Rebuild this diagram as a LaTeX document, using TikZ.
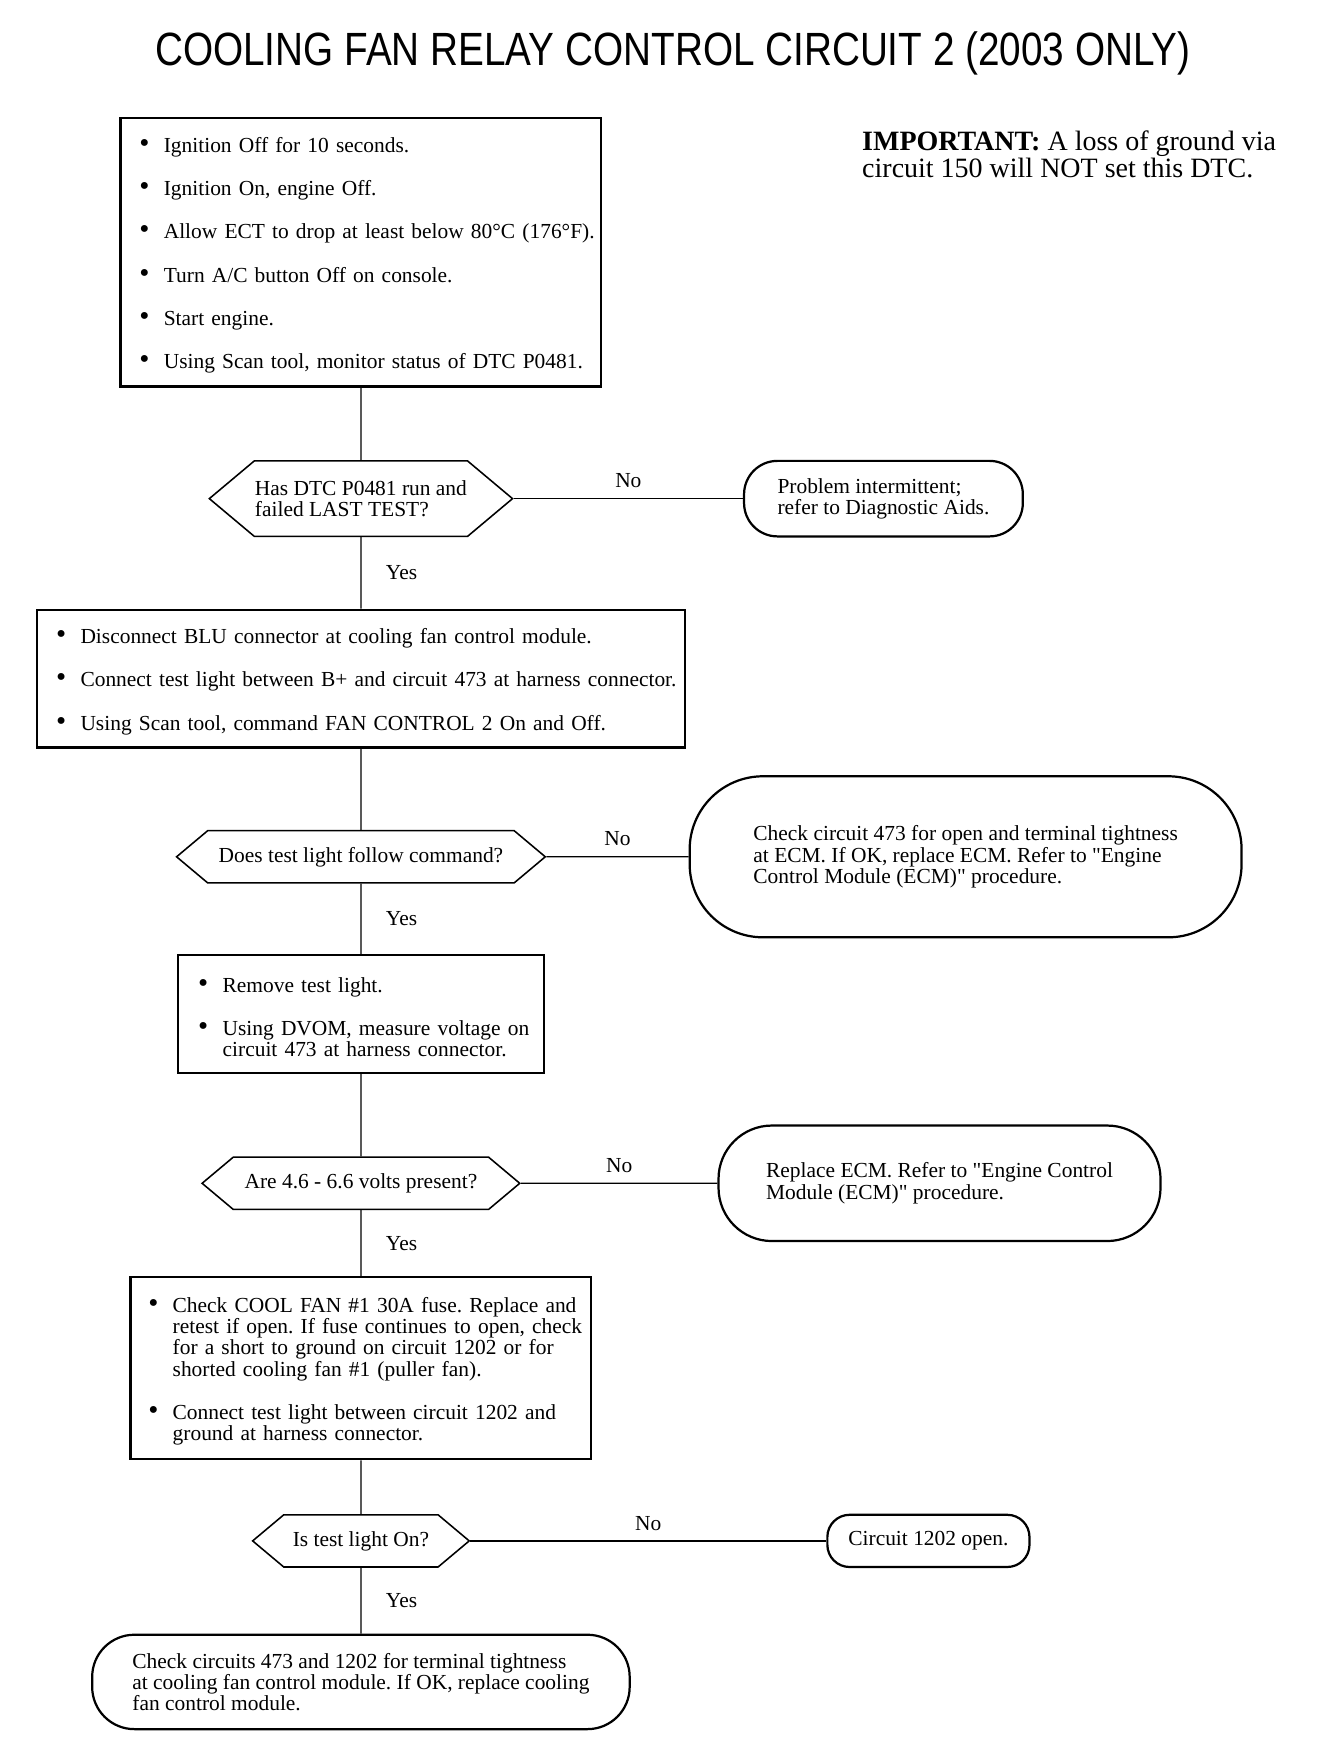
\documentclass[tikz,border=0pt]{standalone}
\usepackage{fontspec}
\usepackage{graphicx}
\setmainfont{Liberation Serif}
\newfontfamily\titlefont{Liberation Sans}
\usetikzlibrary{shapes.symbols}
\frenchspacing

\newcommand{\bodyfont}{\fontsize{9.65}{9.6}\selectfont}
\newcommand{\bigbullet}{{\fontsize{13}{13}\selectfont\textbullet}}
% bullet list used inside the boxes, #1 = left padding
\newenvironment{checklist}[1]{%
  \begin{list}{\bigbullet}{%
    \setlength{\leftmargin}{\dimexpr#1+11pt\relax}%
    \setlength{\labelwidth}{\leftmargin}%
    \setlength{\labelsep}{0pt}%
    \setlength{\rightmargin}{-20pt}%
    \setlength{\itemsep}{9.9pt}\setlength{\parsep}{0pt}%
    \setlength{\topsep}{0pt}\setlength{\partopsep}{0pt}%
    \def\makelabel##1{\hspace*{#1}##1\hfil}}}%
  {\end{list}}

\tikzset{
  box/.style={draw, line width=1pt, inner sep=0pt, align=left, font=\bodyfont},
  dec/.style={draw, line width=0.7pt, shape=signal, signal to=west and east,
    signal pointer angle=80, inner sep=0pt, align=left, font=\bodyfont},
  term/.style={draw, line width=1pt, rounded corners=#1, inner sep=0pt,
    align=left, font=\bodyfont},
  lnk/.style={line width=0.55pt},
  no/.style={midway, above=4.5pt, inner sep=0pt, font=\bodyfont},
  yes/.style={midway, right=11pt, inner sep=0pt, font=\bodyfont}
}

\begin{document}
\begin{tikzpicture}[x=0.5pt,y=-0.5pt]
\useasboundingbox (0,0) rectangle (1210,1574);

\node (title) at (606,48) {\scalebox{0.83}[1]{\titlefont\fontsize{21}{21}\selectfont
  COOLING FAN RELAY CONTROL CIRCUIT 2 (2003 ONLY)}};

\node (note) [anchor=north west, inner sep=0pt, align=left,
  font=\fontsize{12.6}{12.5}\selectfont] at (776,117)
  {\textbf{IMPORTANT:} A loss of ground via\\circuit 150 will NOT set this DTC.};

% steps
\node (b1) [box, text width=216.5pt, minimum height=121pt] at (325,227) {%
  \begin{checklist}{8.5pt}
  \item Ignition Off for 10 seconds.
  \item Ignition On, engine Off.
  \item Allow ECT to drop at least below 80°C (176°F).
  \item Turn A/C button Off on console.
  \item Start engine.
  \item Using Scan tool, monitor status of DTC P0481.
  \end{checklist}};

\node (b2) [box, text width=291.5pt, minimum height=62pt] at (325,611) {%
  \begin{checklist}{8.5pt}
  \item Disconnect BLU connector at cooling fan control module.
  \item Connect test light between B+ and circuit 473 at harness connector.
  \item Using Scan tool, command FAN CONTROL 2 On and Off.
  \end{checklist}};

\node (b3) [box, text width=164.5pt, minimum height=53pt] at (325,913) {%
  \begin{checklist}{9pt}
  \item Remove test light.
  \item Using DVOM, measure voltage on\\circuit 473 at harness connector.
  \end{checklist}};

\node (b4) [box, text width=207.5pt, minimum height=82pt] at (325,1232) {%
  \begin{checklist}{8pt}
  \item Check COOL FAN \#1 30A fuse. Replace and\\retest if open. If fuse continues to open, check\\for a short to ground on circuit 1202 or for\\shorted cooling fan \#1 (puller fan).
  \item Connect test light between circuit 1202 and\\ground at harness connector.
  \end{checklist}};

% questions
\node (d1) [dec, minimum width=136.5pt, minimum height=34pt] at (325,449)
  {Has DTC P0481 run and\\failed LAST TEST?};
\node (d2) [dec, minimum width=166pt, minimum height=23.5pt] at (325,771.5)
  {Does test light follow command?};
\node (d3) [dec, minimum width=143pt, minimum height=23.5pt] at (325,1065.5)
  {Are 4.6 - 6.6 volts present?};
\node (d4) [dec, minimum width=97.5pt, minimum height=23.5pt] at (325,1387.5)
  {Is test light On?};

% results
\node (t1) [term=15pt, minimum width=125.5pt, minimum height=34pt] at (795.5,449)
  {Problem intermittent;\\refer to Diagnostic Aids.};
\node (t2) [term=33pt, minimum width=248.5pt, minimum height=72.5pt] at (869.5,771.5)
  {Check circuit 473 for open and terminal tightness\\at ECM. If OK, replace ECM. Refer to \textquotedbl Engine\\Control Module (ECM)\textquotedbl{} procedure.};
\node (t3) [term=24pt, minimum width=199pt, minimum height=52pt] at (846,1065.5)
  {Replace ECM. Refer to \textquotedbl Engine Control\\Module (ECM)\textquotedbl{} procedure.};
\node (t4) [term=10pt, minimum width=91pt, minimum height=23.5pt] at (836,1387.5)
  {Circuit 1202 open.};
\node (t5) [term=19pt, minimum width=242pt, minimum height=42.5pt] at (325,1514.5)
  {Check circuits 473 and 1202 for terminal tightness\\at cooling fan control module. If OK, replace cooling\\fan control module.};

% connectors
\foreach \a/\b in {b1/d1, b2/d2, b3/d3, b4/d4}
  \draw[lnk] (\a) -- (\b);
\foreach \a/\b in {d1/b2, d2/b3, d3/b4, d4/t5}
  \draw[lnk] (\a) -- node[yes] {Yes} (\b);
\foreach \a/\b in {d1/t1, d2/t2, d3/t3, d4/t4}
  \draw[lnk] (\a) -- node[no] {No} (\b);
\end{tikzpicture}
\end{document}
